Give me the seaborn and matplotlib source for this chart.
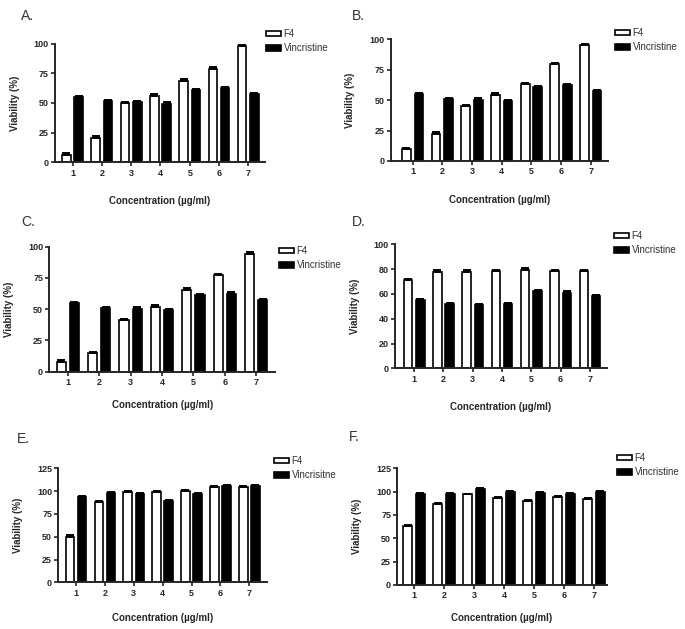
import pandas as pd
import matplotlib
matplotlib.use('Agg')
import matplotlib.pyplot as plt
import seaborn as sns

# concentration levels (x axis)
conc = ['1', '2', '3', '4', '5', '6', '7']

# viability (%)
a_f4 = [6, 20.5, 50, 56, 68.5, 79, 98]
a_vin = [55, 51.5, 50.5, 49, 61, 62.5, 57.5]
b_f4 = [10, 22.5, 45, 54, 63, 79.5, 95.5]
b_vin = [55, 51, 50.5, 49, 61, 62.5, 57.5]
c_f4 = [8, 15, 41, 52, 65.5, 77.5, 94.5]
c_vin = [55, 51, 50.5, 49, 61, 62.5, 57.5]
d_f4 = [71, 78, 78, 78.5, 79.5, 78.5, 78.5]
d_vin = [55, 52, 51, 51.5, 62, 61, 58.5]
e_f4 = [50, 88, 99.5, 99.5, 100.5, 105, 105]
e_vin = [94, 98, 96.5, 89.5, 96.5, 106, 105.5]
f_f4 = [63, 86.5, 97, 93.5, 90.5, 94.5, 92]
f_vin = [97.5, 97, 103, 100, 99, 97.5, 100]

# upper error bars (SD), small
a_f4_err = [1.5, 1.5, 1.0, 1.5, 1.5, 1.0, 1.0]
a_vin_err = [1.0, 1.0, 1.0, 1.5, 1.0, 1.0, 1.0]
b_f4_err = [1.0, 1.0, 1.0, 1.5, 1.5, 1.0, 1.0]
b_vin_err = [1.0, 1.0, 1.0, 1.5, 1.0, 1.0, 1.0]
c_f4_err = [1.5, 1.0, 1.0, 1.0, 1.5, 1.0, 1.5]
c_vin_err = [1.0, 1.0, 1.0, 1.5, 1.0, 1.0, 1.0]
d_f4_err = [1.0, 1.0, 1.0, 1.0, 1.0, 1.0, 1.0]
d_vin_err = [1.0, 1.0, 1.0, 1.0, 1.0, 1.0, 1.0]
e_f4_err = [1.5, 1.0, 1.0, 1.0, 1.0, 1.0, 1.0]
e_vin_err = [1.0, 1.0, 1.0, 1.0, 1.0, 1.0, 1.0]
f_f4_err = [1.5, 1.5, 1.0, 1.0, 1.0, 1.0, 1.0]
f_vin_err = [1.0, 1.5, 1.0, 1.0, 1.0, 1.0, 1.0]

letters = ['A.', 'B.', 'C.', 'D.', 'E.', 'F.']
legend_names = [['F4', 'Vincristine']] * 4 + [['F4', 'Vincrisitne'], ['F4', 'Vincristine']]
yticks = [[0, 25, 50, 75, 100]] * 3 + [[0, 20, 40, 60, 80, 100]] + [[0, 25, 50, 75, 100, 125]] * 2

# layout in pixels: axes (left, top, right, bottom), x limits, legend (x, y), letter (x, y)
W, H = 685, 629
rects = [(55, 43.7, 265, 162.3), (390.7, 39.3, 608, 161), (49.3, 246.7, 275, 371.7),
         (395, 244.3, 606.7, 368.3), (58.3, 468.3, 266.7, 582.3), (397.3, 468.3, 606.7, 585)]
xlims = [(-0.6, 6.57), (-0.74, 6.58), (-0.59, 6.6), (-0.65, 6.57), (-0.61, 6.6), (-0.56, 6.42)]
leg_pos = [(266, 29), (615, 28), (279, 246), (614, 231), (274, 456), (617, 453)]
letter_pos = [(21, 20), (352, 20), (21, 226), (352, 226), (17, 443), (349, 441)]
xlabel_pad = [13, 13.5, 9.5, 13.5, 11, 9]

panels = [(a_f4, a_vin, a_f4_err, a_vin_err), (b_f4, b_vin, b_f4_err, b_vin_err),
          (c_f4, c_vin, c_f4_err, c_vin_err), (d_f4, d_vin, d_f4_err, d_vin_err),
          (e_f4, e_vin, e_f4_err, e_vin_err), (f_f4, f_vin, f_f4_err, f_vin_err)]

sns.set_style('ticks')
plt.rcParams['font.family'] = ['Liberation Sans', 'DejaVu Sans']

fig = plt.figure(figsize=(W / 100, H / 100), dpi=100)

for i, (f4, vin, f4_err, vin_err) in enumerate(panels):
    l, t, r, b = rects[i]
    ax = fig.add_axes([l / W, 1 - b / H, (r - l) / W, (b - t) / H])
    names = legend_names[i]
    df = pd.DataFrame({'Concentration': conc * 2,
                       'Viability': f4 + vin,
                       'Treatment': [names[0]] * 7 + [names[1]] * 7})
    sns.barplot(data=df, x='Concentration', y='Viability', hue='Treatment',
                palette=['white', 'black'], edgecolor='black', linewidth=1.2,
                width=0.84, gap=0.3, errorbar=None, ax=ax)
    # upper-only error bars on top of each series
    for cont, err in zip(ax.containers, [f4_err, vin_err]):
        xs = [p.get_x() + p.get_width() / 2 for p in cont]
        ys = [p.get_height() for p in cont]
        ax.errorbar(xs, ys, yerr=[[0] * 7, err], fmt='none', ecolor='black',
                    elinewidth=1.1, capsize=3.0, capthick=1.4, clip_on=False)
    ax.set_xlim(*xlims[i])
    ax.set_ylim(0, yticks[i][-1])
    ax.set_yticks(yticks[i])
    sns.despine(ax=ax)
    for s in ['left', 'bottom']:
        ax.spines[s].set_linewidth(1.4)
    ax.tick_params(axis='both', length=3, width=1.2, labelsize=6.5, pad=1.5)
    for lab in ax.get_xticklabels() + ax.get_yticklabels():
        lab.set_fontweight('bold')
    ax.set_xlabel('Concentration (µg/ml)', fontsize=7, fontweight='bold', labelpad=xlabel_pad[i])
    ax.set_ylabel('Viability (%)', fontsize=7, fontweight='bold', labelpad=10)
    lx, ly = leg_pos[i]
    sns.move_legend(ax, 'upper left', bbox_to_anchor=(lx / W, 1 - ly / H),
                    bbox_transform=fig.transFigure, frameon=False, title=None,
                    fontsize=7, handlelength=1.5, handleheight=0.5, handletextpad=0.3,
                    labelspacing=0.45, borderpad=0, borderaxespad=0, labelcolor='#333333')
    fig.text(letter_pos[i][0] / W, 1 - letter_pos[i][1] / H, letters[i],
             fontsize=10, color='#333333', va='baseline')

fig.savefig('out.png', dpi=100, facecolor='white')
